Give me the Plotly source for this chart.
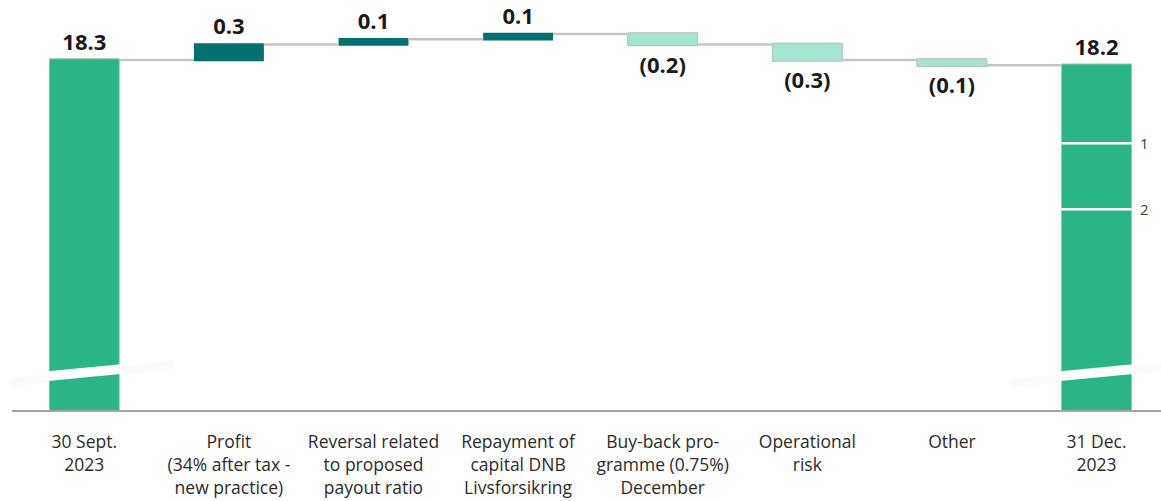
import plotly.graph_objects as go

# CET1 ratio bridge, per cent
categories = [
    "30 Sept.<br>2023",
    "Profit<br>(34% after tax -<br>new practice)",
    "Reversal related<br>to proposed<br>payout ratio",
    "Repayment of<br>capital DNB<br>Livsforsikring",
    "Buy-back pro-<br>gramme (0.75%)<br>December",
    "Operational<br>risk",
    "Other",
    "31 Dec.<br>2023",
]
measures = ["absolute", "relative", "relative", "relative", "relative", "relative", "relative", "total"]
values = [18.3, 0.3, 0.1, 0.1, -0.2, -0.3, -0.1, 18.2]
value_labels = ["18.3", "0.3", "0.1", "0.1", "(0.2)", "(0.3)", "(0.1)", "18.2"]
footnote_marks = ["1", "2"]
footnote_levels = [16.70, 15.43]

GREEN = "#2bb584"
TEAL = "#02716f"
MINT = "#a5e3d2"
CONNECTOR = "#c4c4c4"

Y_MIN, Y_MAX = 11.569, 19.454
BAR_W = 0.484
x_pos = list(range(len(categories)))

fig = go.Figure()
fig.add_trace(go.Waterfall(
    x=x_pos,
    y=[v if m != "total" else 0 for v, m in zip(values, measures)],
    measure=measures,
    width=BAR_W,
    text=value_labels,
    textposition="outside",
    textfont=dict(family="Open Sans", size=22, color="#1a1a1a", weight="bold"),
    totals=dict(marker=dict(color=GREEN, line=dict(color="#9cc9b6", width=1))),
    increasing=dict(marker=dict(color=TEAL, line=dict(color=TEAL, width=0))),
    decreasing=dict(marker=dict(color=MINT, line=dict(color="#b5bdb9", width=1))),
    connector=dict(mode="between", line=dict(color=CONNECTOR, width=2.5)),
    cliponaxis=False,
    hoverinfo="skip",
))

shapes = []
# axis-break marks on the two total bars
for i in (0, len(categories) - 1):
    # faint halo behind the break
    shapes.append(dict(
        type="path", xref="x", yref="y", layer="below",
        path=(f"M {i-0.6},{11.99} L {i+0.62},{12.35} "
              f"L {i+0.62},{12.52} L {i-0.6},{12.16} Z"),
        fillcolor="#fbfbfb", line=dict(width=0),
    ))
    shapes.append(dict(
        type="path", xref="x", yref="y", layer="above",
        path=(f"M {i-0.27},{12.12} L {i+0.27},{12.265} "
              f"L {i+0.27},{12.455} L {i-0.27},{12.31} Z"),
        fillcolor="white", line=dict(width=0),
    ))

# separators on the closing bar with footnote markers
last = len(categories) - 1
annotations = []
for mark, lvl in zip(footnote_marks, footnote_levels):
    shapes.append(dict(
        type="line", xref="x", yref="y", layer="above",
        x0=last - BAR_W / 2, x1=last + BAR_W / 2, y0=lvl, y1=lvl,
        line=dict(color="white", width=2.5),
    ))
    annotations.append(dict(
        x=last + 0.335, y=lvl, xref="x", yref="y", text=mark,
        showarrow=False, font=dict(family="Open Sans", size=15, color="#404040"),
    ))

fig.update_layout(
    width=1161, height=501,
    margin=dict(l=12, r=0, t=0, b=91),
    paper_bgcolor="white", plot_bgcolor="white",
    showlegend=False,
    shapes=shapes,
    annotations=annotations,
    xaxis=dict(
        range=[-0.5, 7.446],
        tickmode="array", tickvals=x_pos, ticktext=categories,
        tickfont=dict(family="Open Sans", size=17.5, color="#2b2b2b"),
        showgrid=False, zeroline=False,
        showline=True, linecolor="#a6a6a6", linewidth=2,
        ticks="", ticklabelstandoff=15,
    ),
    yaxis=dict(
        range=[Y_MIN, Y_MAX], visible=False, showgrid=False, zeroline=False,
    ),
)

fig.write_html("out.html")
